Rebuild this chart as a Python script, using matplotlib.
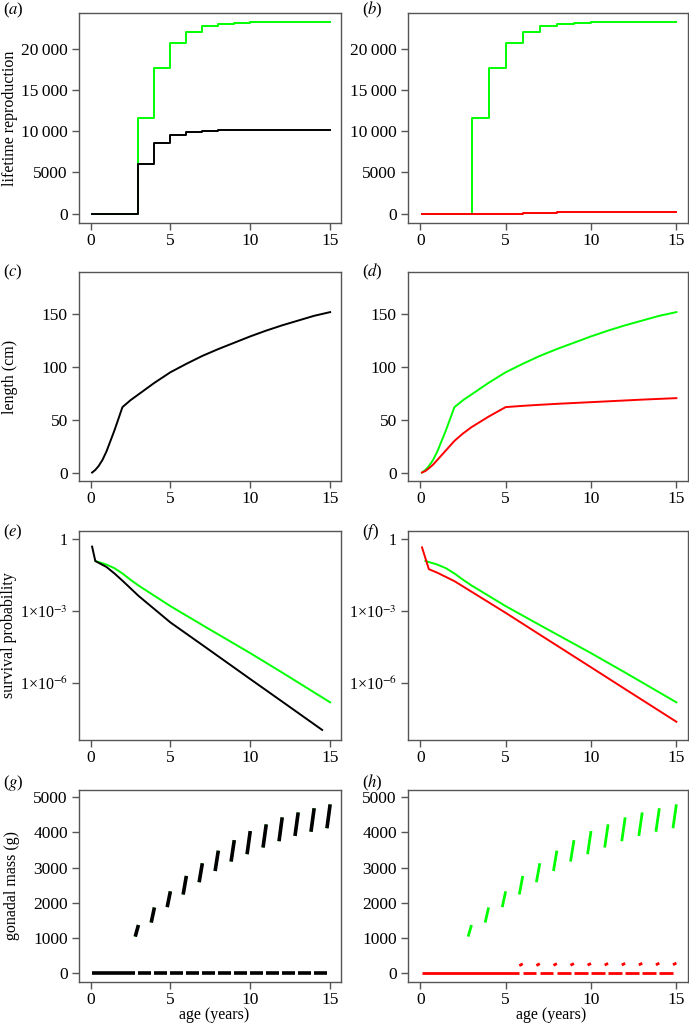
import numpy as np
import matplotlib
matplotlib.use("Agg")
from matplotlib import pyplot as plt
from matplotlib.ticker import FuncFormatter, FixedLocator

plt.rcParams['font.family'] = ['Liberation Serif', 'DejaVu Serif']
plt.rcParams['mathtext.fontset'] = 'stix'

# ---- data ----
# (a)/(b) lifetime reproduction, step values from age 3..15
rep_ages = [0.1, 3, 4, 5, 6, 7, 8, 9, 10, 11, 12, 13, 14, 15]
rep_fast = [0, 11670, 17760, 20690, 22110, 22760, 23050, 23170, 23250, 23250, 23250, 23250, 23250, 23250]
rep_base = [0, 6060, 8540, 9550, 9880, 10040, 10120, 10140, 10150, 10150, 10160, 10160, 10160, 10160]
rep_slow = [0, 0, 0, 0, 80, 110, 130, 140, 150, 152, 155, 157, 158, 160]

# (c)/(d) length (cm)
len_ages = [0.1, 0.3, 0.5, 0.75, 1, 1.5, 2, 2.5, 3, 4, 5, 6, 7, 8, 9, 10, 11, 12, 13, 14, 15]
len_fast = [0, 2.5, 6, 12, 20, 40, 62, 68.5, 74, 85, 95, 103, 110.5, 117, 123, 129, 134.5, 139.5, 144, 148.5, 152]
len_slow = [0, 1.5, 4, 7.5, 12, 21, 30, 37, 43, 53, 62, 63.2, 64.2, 65.1, 65.9, 66.7, 67.5, 68.3, 69.1, 69.8, 70.5]

# (e)/(f) survival probability, log10
surv_fast_ages = [0.3, 1, 1.5, 2, 2.5, 3, 5, 7, 10, 12, 15]
surv_fast_log = [-0.9, -1.05, -1.2, -1.42, -1.68, -1.92, -2.78, -3.57, -4.74, -5.55, -6.79]
surv_base_ages = [0.1, 0.3, 1, 1.5, 2, 3, 5, 7, 10, 12, 14.5]
surv_base_log = [-0.3, -0.9, -1.15, -1.42, -1.72, -2.35, -3.46, -4.4, -5.82, -6.76, -7.94]
surv_slow_ages = [0.1, 0.5, 1, 2, 3, 5, 7, 10, 12, 15]
surv_slow_log = [-0.33, -1.24, -1.39, -1.74, -2.18, -3.06, -3.97, -5.33, -6.24, -7.6]

# (g)/(h) gonadal mass (g): ripening just before each spawning age
spawn_fast = [3, 4, 5, 6, 7, 8, 9, 10, 11, 12, 13, 14, 15]
gonad_fast_lo = [1030, 1430, 1870, 2230, 2580, 2900, 3170, 3380, 3570, 3750, 3900, 4020, 4120]
gonad_fast_hi = [1360, 1860, 2320, 2760, 3120, 3480, 3780, 4040, 4230, 4430, 4570, 4690, 4800]
spawn_slow = [6, 7, 8, 9, 10, 11, 12, 13, 14, 15]
gonad_slow_lo = [200, 205, 210, 212, 215, 218, 220, 222, 225, 228]
gonad_slow_hi = [255, 258, 260, 262, 264, 266, 268, 270, 272, 275]
ripen = 0.2
age_first = 0.1

GREEN = '#00ff00'
RED = '#ff0000'
GRAY = '#555555'

W, H = 689, 1023
fig = plt.figure(figsize=(W / 100, H / 100), dpi=100)


def box(l, r, t, b):
    ax = fig.add_axes([l / W, 1 - b / H, (r - l) / W, (b - t) / H])
    for s in ax.spines.values():
        s.set_color(GRAY)
        s.set_linewidth(1)
    ax.tick_params(direction='out', length=5, width=1, color=GRAY,
                   labelsize=12.5)
    ax.tick_params(axis='y', pad=3)
    ax.tick_params(axis='x', pad=2)
    ax.set_xlim(-0.72, 15.68)
    ax.xaxis.set_major_locator(FixedLocator([0, 5, 10, 15]))
    return ax


cols = [(79, 341), (408, 688)]
rows = [(13, 223), (272, 481), (531, 740), (790, 982)]
letters = [['a', 'b'], ['c', 'd'], ['e', 'f'], ['g', 'h']]
letter_y = [10, 272, 532, 783]
axs = [[box(c[0], c[1], r[0], r[1]) for c in cols] for r in rows]

for i in range(4):
    for j, x in enumerate([3, 362]):
        fig.text(x / W, 1 - letter_y[i] / H, r'($\mathit{%s}$)' % letters[i][j],
                 fontsize=12, va='center', ha='left')

thou = FuncFormatter(lambda v, p: ('%d' % v) if abs(v) < 10000 else
                     '%d\u2009%03d' % (v // 1000, v % 1000))
sci = FuncFormatter(lambda v, p: '1' if v == 1 else
                    '1×10' + r'$^{%d}$' % round(np.log10(v)))

# (a), (b)
for j, ax in enumerate(axs[0]):
    ax.step(rep_ages, rep_fast, where='post', color=GREEN, lw=1.4)
    if j == 0:
        ax.step(rep_ages, rep_base, where='post', color='black', lw=1.4)
    else:
        ax.step(rep_ages, rep_slow, where='post', color=RED, lw=1.4)
    ax.set_ylim(-1150, 24400)
    ax.yaxis.set_major_locator(FixedLocator([0, 5000, 10000, 15000, 20000]))
    ax.yaxis.set_major_formatter(thou)

# (c), (d)
axs[1][0].plot(len_ages, len_fast, color='black', lw=1.4)
axs[1][1].plot(len_ages, len_fast, color=GREEN, lw=1.4)
axs[1][1].plot(len_ages, len_slow, color=RED, lw=1.4)
for ax in axs[1]:
    ax.set_ylim(-8, 190)
    ax.yaxis.set_major_locator(FixedLocator([0, 50, 100, 150]))

# (e), (f)
axs[2][0].plot(surv_fast_ages, 10 ** np.array(surv_fast_log), color=GREEN, lw=1.4)
axs[2][0].plot(surv_base_ages, 10 ** np.array(surv_base_log), color='black', lw=1.4)
axs[2][1].plot(surv_fast_ages, 10 ** np.array(surv_fast_log), color=GREEN, lw=1.4)
axs[2][1].plot(surv_slow_ages, 10 ** np.array(surv_slow_log), color=RED, lw=1.4)
for ax in axs[2]:
    ax.set_yscale('log')
    ax.set_ylim(10 ** -8.36, 10 ** 0.35)
    ax.yaxis.set_major_locator(FixedLocator([1, 1e-3, 1e-6]))
    ax.yaxis.set_minor_locator(FixedLocator([]))
    ax.yaxis.set_major_formatter(sci)
    ax.tick_params(axis='y', labelsize=11.5)


# (g), (h)
def gonad(ax, spawn, lo, hi, color, lw, zero=True):
    for a, l, h in zip(spawn, lo, hi):
        ax.plot([a - ripen, a], [l, h], color=color, lw=lw, solid_capstyle='butt')
    if zero:
        starts = [age_first] + list(spawn)
        ends = [spawn[0] - ripen] + [a + 1 - ripen for a in spawn[:-1]]
        for s, e in zip(starts, ends):
            ax.plot([s, e], [0, 0], color=color, lw=lw, solid_capstyle='butt')


gonad(axs[3][0], spawn_fast, gonad_fast_lo, gonad_fast_hi, GREEN, 1.8, zero=False)
gonad(axs[3][0], spawn_fast, gonad_fast_lo, gonad_fast_hi, 'black', 2.6)
gonad(axs[3][1], spawn_fast, gonad_fast_lo, gonad_fast_hi, GREEN, 2.0, zero=False)
gonad(axs[3][1], spawn_slow, gonad_slow_lo, gonad_slow_hi, RED, 2.0)
for ax in axs[3]:
    ax.set_ylim(-265, 5210)
    ax.yaxis.set_major_locator(FixedLocator([0, 1000, 2000, 3000, 4000, 5000]))

# axis labels
ylabels = ['lifetime reproduction', 'length (cm)', 'survival probability', 'gonadal mass (g)']
label_x = [10, 10, 9, 12]
for r, lab, lx in zip(rows, ylabels, label_x):
    fig.text(lx / W, 1 - (r[0] + r[1]) / 2 / H, lab, rotation=90, ha='center',
             va='center', fontsize=11.5)
for c, cx in zip(cols, [214, 551]):
    fig.text(cx / W, 1 - 1015 / H, 'age (years)', ha='center',
             va='center', fontsize=11.5)

fig.savefig('out.png', dpi=100)
